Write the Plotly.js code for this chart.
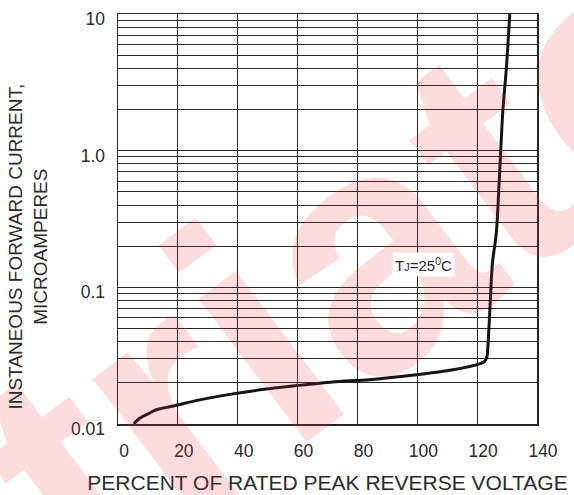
<!DOCTYPE html>
<html>
<head>
<meta charset="utf-8">
<script src="https://cdn.plot.ly/plotly-3.0.1.min.js"></script>
<style>
  html, body { margin: 0; padding: 0; background: #ffffff; }
  #chart { width: 574px; height: 495px; }
</style>
</head>
<body>
<div id="chart"></div>
<script>
// Data
const voltagePct = [5.3, 7.2, 10.5, 12.8, 18.9, 27.3, 38.4, 49.6, 59.0, 71.7, 84.1, 99.7, 111.9, 120.8, 122.5, 123.3, 123.6, 124.2, 125.1, 126.4, 127.5, 128.6, 129.8, 130.9];
const currentUA  = [0.0100, 0.0110, 0.0120, 0.0127, 0.0136, 0.0150, 0.0166, 0.0180, 0.0190, 0.0203, 0.0211, 0.0229, 0.0249, 0.0275, 0.0287, 0.0312, 0.0369, 0.0648, 0.150, 0.249, 0.684, 1.98, 4.11, 10.0];

const xTickVals = [0, 20, 40, 60, 80, 100, 120, 140];
const yTickVals = [0.01, 0.1, 1, 10];
const yTickText = ['0.01', '0.1', '1.0', '10'];

const xTitle = 'PERCENT OF RATED PEAK REVERSE VOLTAGE';
const yTitleLines = ['INSTANEOUS FORWARD CURRENT,', 'MICROAMPERES'];
const curveLabel = 'T<span style="font-size:11px">J</span>=25<sup>0</sup>C';
const watermark = 'triatc';

const FONT = 'Liberation Sans, Arial, Helvetica, sans-serif';
const GRID = '#262626';
const TEXT = '#2b2b2b';

const trace = {
  x: voltagePct,
  y: currentUA,
  type: 'scatter',
  mode: 'lines',
  line: { color: '#141414', width: 3, shape: 'spline', smoothing: 0.8 },
  hoverinfo: 'skip',
  showlegend: false
};

const layout = {
  width: 574,
  height: 495,
  margin: { l: 118, r: 37, t: 14, b: 71, pad: 0 },
  paper_bgcolor: '#ffffff',
  plot_bgcolor: '#ffffff',
  showlegend: false,
  font: { family: FONT, color: TEXT },
  xaxis: {
    range: [0, 140],
    tickmode: 'array',
    tickvals: xTickVals,
    ticks: '',
    showgrid: true,
    gridcolor: GRID,
    gridwidth: 1,
    zeroline: false,
    showline: true,
    linecolor: GRID,
    linewidth: 1.5,
    mirror: true,
    tickfont: { family: FONT, size: 17.5, color: TEXT },
    ticklabelshift: 6,
    ticklabelstandoff: 10,
    title: { text: xTitle, font: { family: FONT, size: 21, color: TEXT }, standoff: 16 }
  },
  yaxis: {
    type: 'log',
    range: [-2.0004, 1.0004],
    tickmode: 'array',
    tickvals: yTickVals,
    ticktext: yTickText,
    ticks: '',
    showgrid: true,
    gridcolor: GRID,
    gridwidth: 1,
    zeroline: false,
    showline: true,
    linecolor: GRID,
    linewidth: 1.5,
    mirror: true,
    tickfont: { family: FONT, size: 17.5, color: TEXT },
    ticklabelshift: 5,
    ticklabelstandoff: 8,
    ticklabeloverflow: 'allow',
    minor: { dtick: 'D1', showgrid: true, gridcolor: GRID, gridwidth: 1, ticks: '' }
  },
  annotations: [
    {
      xref: 'paper', yref: 'paper', x: 0.56, y: 0.40,
      xanchor: 'center', yanchor: 'middle',
      text: watermark, textangle: -37, showarrow: false,
      font: { family: FONT, size: 340, color: 'rgba(245, 45, 60, 0.17)', weight: 'bold' }
    },
    {
      xref: 'x', yref: 'y', x: 102, y: Math.log10(0.146),
      xanchor: 'center', yanchor: 'middle',
      text: curveLabel, showarrow: false,
      bgcolor: '#ffffff', borderpad: 2,
      font: { family: FONT, size: 15, color: TEXT }
    },
    {
      xref: 'paper', yref: 'paper', x: -0.2155, y: 0.432,
      xanchor: 'center', yanchor: 'middle',
      text: yTitleLines.join('<br>'), textangle: -90, showarrow: false,
      font: { family: FONT, size: 19, color: TEXT }
    }
  ]
};

Plotly.newPlot('chart', [trace], layout, { displayModeBar: false, staticPlot: true });
</script>
</body>
</html>
